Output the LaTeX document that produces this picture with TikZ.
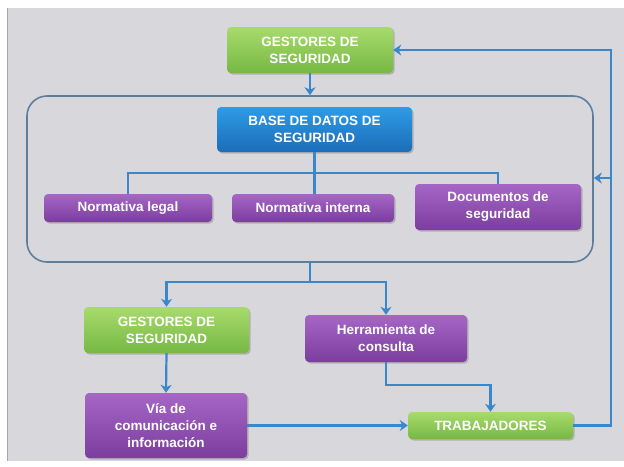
\documentclass[tikz,border=0pt]{standalone}
\usepackage{fontspec}
\setmainfont{Liberation Sans}
\usetikzlibrary{arrows.meta,shadows}

\definecolor{panelgray}{HTML}{D8D8DC}
\definecolor{linkblue}{HTML}{3A87CB}
\definecolor{framegray}{HTML}{5F7E9C}
\definecolor{greentop}{HTML}{A8DB6C}
\definecolor{greenbot}{HTML}{76B843}
\definecolor{bluetop}{HTML}{2E9BE6}
\definecolor{bluebot}{HTML}{1C6DB8}
\definecolor{purptop}{HTML}{A566C6}
\definecolor{purpbot}{HTML}{7C3E9E}

\tikzset{
  box/.style={rounded corners=4pt, align=center, text=white,
    font=\bfseries\fontsize{13.5}{17}\selectfont, inner sep=0pt,
    drop shadow={shadow xshift=1.5pt, shadow yshift=-1.5pt, opacity=0.35, fill=black!60}},
  greenbox/.style={box, top color=greentop, bottom color=greenbot},
  bluebox/.style={box, top color=bluetop, bottom color=bluebot},
  purplebox/.style={box, top color=purptop, bottom color=purpbot},
  link/.style={draw=linkblue, line width=2.2pt},
  arrowlink/.style={link, -{Stealth[length=8pt, width=11pt, inset=2.5pt]}},
}

\begin{document}
\begin{tikzpicture}[x=1pt, y=-1pt]
  % page and grey panel
  \useasboundingbox (0,0) rectangle (624,466);
  \fill[white] (0,0) rectangle (624,466);
  \fill[panelgray] (7,8) rectangle (624,461);
  \draw[gray!70, line width=1pt] (7.5,8) -- (7.5,461);

  % group frame around the database
  \node[draw=framegray, line width=1.6pt, rounded corners=20pt,
        minimum width=566pt, minimum height=166pt, inner sep=0pt]
        (frame) at (310,179) {};

  % boxes
  \node[greenbox, minimum width=166pt, minimum height=46pt] (g1) at (310,50)
    {GESTORES DE\\SEGURIDAD};
  \node[bluebox, minimum width=195pt, minimum height=45pt] (db) at (314.5,129.5)
    {BASE DE DATOS DE\\SEGURIDAD};
  \node[purplebox, minimum width=168pt, minimum height=28pt] (nl) at (128,208)
    {Normativa legal};
  \node[purplebox, minimum width=162pt, minimum height=28pt] (ni) at (313,208)
    {Normativa interna};
  \node[purplebox, minimum width=166pt, minimum height=46pt] (ds) at (498,207)
    {Documentos de\\seguridad};
  \node[greenbox, minimum width=165pt, minimum height=46pt] (g2) at (166.5,330)
    {GESTORES DE\\SEGURIDAD};
  \node[purplebox, minimum width=162pt, minimum height=47pt] (hc) at (386,338.5)
    {Herramienta de\\consulta};
  \node[purplebox, minimum width=162pt, minimum height=65pt] (via) at (166,425.5)
    {Vía de\\comunicación e\\información};
  \node[greenbox, minimum width=165pt, minimum height=27pt] (tr) at (490.5,425.5)
    {TRABAJADORES};

  % junction points
  \coordinate (bus) at (314.5,173);
  \coordinate (split) at (310,282);
  \coordinate (elbow) at (386,385);
  \coordinate (rail) at (611,178);

  % top managers into the frame
  \draw[arrowlink] (g1.south) -- (g1.south |- frame.north);

  % database feeding the three document sources
  \draw[link] (db.south) -- (bus);
  \draw[link] (nl.north) -- (nl.north |- bus) -- (ds.north |- bus) -- (ds.north);
  \draw[link] (bus) -- (bus |- ni.north);

  % frame out to the second level
  \draw[link] (split |- frame.south) -- (split);
  \draw[arrowlink] (split) -- (split -| g2.north) -- (g2.north);
  \draw[arrowlink] (split) -- (split -| hc.north) -- (hc.north);

  % second level down to the workers
  \draw[arrowlink] (g2.south) -- (via.north);
  \draw[arrowlink] (via.east |- tr.west) -- (tr.west);
  \draw[arrowlink] (hc.south) -- (elbow) -- (elbow -| tr.north) -- (tr.north);

  % feedback from the workers
  \draw[arrowlink] (tr.east) -- (tr.east -| rail) -- (rail |- g1.east) -- (g1.east);
  \draw[arrowlink] (rail) -- (rail -| frame.east);
\end{tikzpicture}
\end{document}
